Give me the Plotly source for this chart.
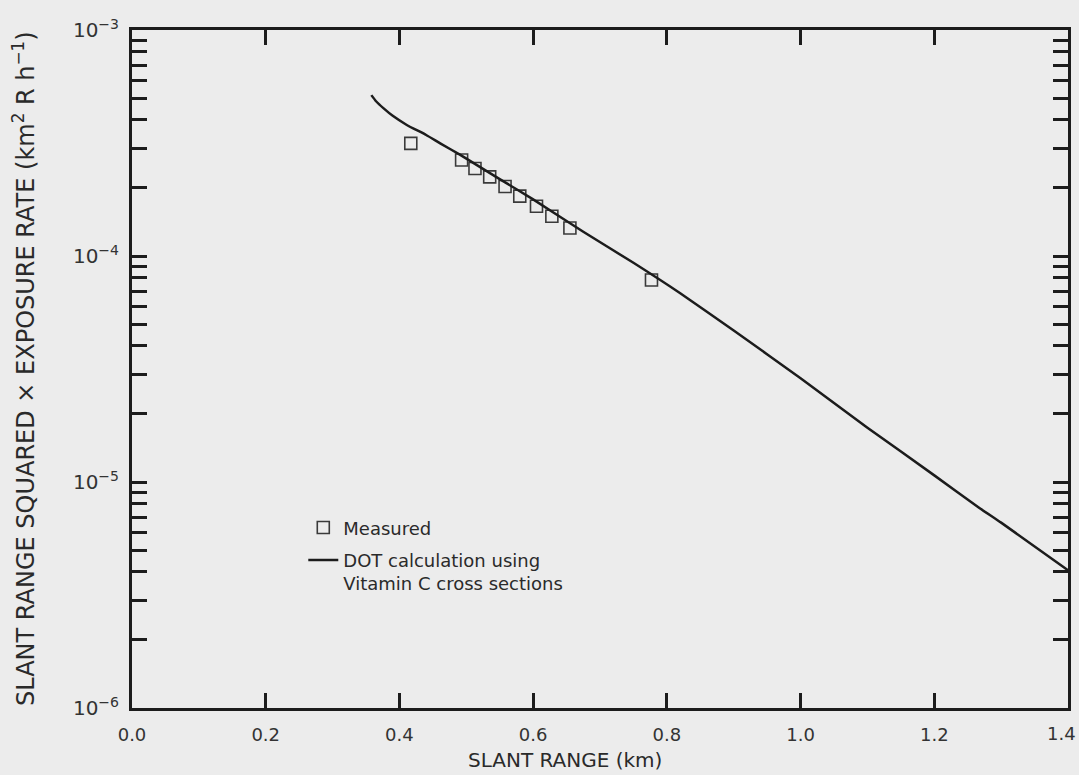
import plotly.graph_objects as go

# Measured points (slant range km, range^2 x exposure rate)
measured_x = [0.417, 0.493, 0.513, 0.535, 0.558, 0.580, 0.605, 0.628, 0.655, 0.777]
measured_y = [3.15e-4, 2.66e-4, 2.44e-4, 2.24e-4, 2.03e-4, 1.84e-4, 1.66e-4, 1.50e-4, 1.33e-4, 7.83e-5]

# DOT calculation curve
calc_x = [0.358, 0.365, 0.376, 0.390, 0.411, 0.440, 0.461, 0.491, 0.550, 0.600,
          0.675, 0.750, 0.820, 0.900, 1.000, 1.100, 1.200, 1.268, 1.300, 1.400]
calc_y = [5.15e-4, 4.84e-4, 4.51e-4, 4.17e-4, 3.80e-4, 3.43e-4, 3.15e-4, 2.80e-4, 2.19e-4, 1.78e-4,
          1.28e-4, 9.33e-5, 6.84e-5, 4.68e-5, 2.88e-5, 1.74e-5, 1.07e-5, 7.66e-6, 6.61e-6, 4.07e-6]

x_tickvals = [0.0, 0.2, 0.4, 0.6, 0.8, 1.0, 1.2, 1.4]
x_ticktext = ["0.0", "0.2", "0.4", "0.6", "0.8", "1.0", "1.2", "1.4"]
y_tickvals = [1e-6, 1e-5, 1e-4, 1e-3]
y_ticktext = ["10<sup>−6</sup>", "10<sup>−5</sup>", "10<sup>−4</sup>", "10<sup>−3</sup>"]

x_title = "SLANT RANGE (km)"
y_title = "SLANT RANGE SQUARED × EXPOSURE RATE (km<sup>2</sup> R h<sup>−1</sup>)"

ink = "#1c1c1c"
txt = "#2a2a2a"
bg = "#ececec"
font_family = "DejaVu Sans, Liberation Sans, Arial, sans-serif"

minor_vals = [m * d for d in [1e-6, 1e-5, 1e-4] for m in range(2, 10)]

# the last x tick label sits at the page edge; draw it as an annotation kept inside the page
shown_ticktext = x_ticktext[:-1] + [""]

fig = go.Figure()
fig.add_trace(go.Scatter(
    x=measured_x, y=measured_y, mode="markers", name="Measured",
    legendgroup="a",
    marker=dict(symbol="square-open", size=12, color="#3a3a3a", line=dict(width=1.6, color="#3a3a3a")),
))
fig.add_trace(go.Scatter(
    x=calc_x, y=calc_y, mode="lines", name="DOT calculation using<br>Vitamin C cross sections",
    legendgroup="b",
    line=dict(color=ink, width=2.5, shape="spline", smoothing=0.5),
))

fig.update_layout(
    width=1079, height=775,
    margin=dict(l=132, r=11, t=30, b=67),
    paper_bgcolor=bg, plot_bgcolor=bg,
    font=dict(family=font_family, color=txt, size=15),
    showlegend=True,
    legend=dict(
        x=0.183, y=0.293, xanchor="left", yanchor="top",
        bgcolor="rgba(0,0,0,0)", borderwidth=0,
        font=dict(size=18, color=txt, family=font_family),
        valign="top", tracegroupgap=6,
    ),
    annotations=[
        dict(text=x_title, xref="paper", yref="paper", x=0.4626, y=(708 - 760) / 678,
             xanchor="center", yanchor="middle", showarrow=False,
             font=dict(size=20, color=txt, family=font_family)),
        dict(text=y_title, xref="paper", yref="paper", x=(24 - 132) / 936, y=0.5,
             xanchor="center", yanchor="middle", showarrow=False, textangle=-90,
             font=dict(size=24, color=txt, family=font_family)),
        dict(text=x_ticktext[-1], xref="paper", yref="paper", x=(1078 - 132) / 936, y=(708 - 733) / 678,
             xanchor="right", yanchor="middle", showarrow=False,
             font=dict(size=18, color="#333333", family=font_family)),
    ],
)

fig.update_xaxes(
    range=[0, 1.4], tickvals=x_tickvals, ticktext=shown_ticktext,
    ticks="inside", ticklen=15, tickwidth=2.5, tickcolor=ink,
    showline=True, linewidth=3, linecolor=ink, mirror="ticks",
    showgrid=False, zeroline=False, automargin=False,
    tickfont=dict(size=18, color="#333333"), ticklabelstandoff=8,
)
fig.update_yaxes(
    type="log", range=[-6, -3], tickvals=y_tickvals, ticktext=y_ticktext,
    ticks="inside", ticklen=15, tickwidth=2.5, tickcolor=ink,
    minor=dict(tickvals=minor_vals, ticks="inside", ticklen=15, tickwidth=2.5, tickcolor=ink, showgrid=False),
    showline=True, linewidth=3, linecolor=ink, mirror="ticks",
    showgrid=False, zeroline=False, automargin=False,
    tickfont=dict(size=20, color="#333333"), ticklabelstandoff=6,
)

fig.write_html("out.html")
